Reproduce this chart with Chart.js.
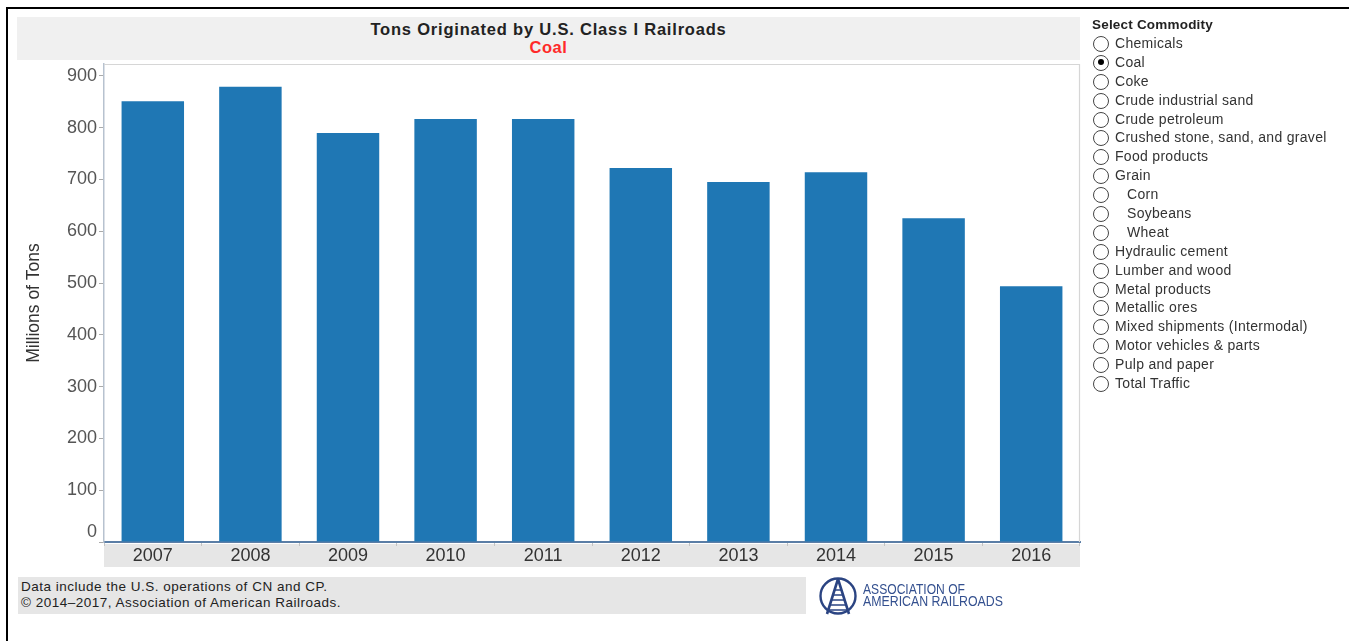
<!DOCTYPE html>
<html>
<head>
<meta charset="utf-8">
<title>Tons Originated by U.S. Class I Railroads</title>
<script src="https://cdn.jsdelivr.net/npm/chart.js@4.4.1/dist/chart.umd.min.js"></script>
<style>
  html, body { margin: 0; padding: 0; background: #fff; }
  body { width: 1349px; height: 641px; position: relative; overflow: hidden;
         font-family: "Liberation Sans", Arial, sans-serif; }
  #frameTop { position: absolute; left: 6px; top: 7px; width: 1343px; height: 2px; background: #000; }
  #frameLeft { position: absolute; left: 6px; top: 7px; width: 2px; height: 634px; background: #000; }
  #titleBand { position: absolute; left: 17px; top: 17px; width: 1063px; height: 43px; background: #f0f0f0; }
  #titleMain { position: absolute; left: 0; width: 100%; top: 3px; text-align: center;
               font-weight: bold; font-size: 16.5px; letter-spacing: 0.8px; color: #222; }
  #titleSub { position: absolute; left: 0; width: 100%; top: 21px; text-align: center;
              font-weight: bold; font-size: 16.5px; letter-spacing: 0.5px; color: #ff2a2a; }
  #chartWrap { position: absolute; left: 0; top: 0; width: 1349px; height: 641px; }
  #footer { position: absolute; left: 18px; top: 577px; width: 788px; height: 37px; background: #e6e6e6; }
  #footer div { position: absolute; left: 3px; font-size: 13.5px; letter-spacing: 0.5px; color: #222; white-space: nowrap; }
  #commodity { position: absolute; left: 1092px; top: 17px; }
  #commodity .head { font-weight: bold; font-size: 13.5px; letter-spacing: 0.2px; color: #222; height: 18px; }
  #commodity .item { position: relative; height: 18.9px; font-size: 14px; letter-spacing: 0.3px; color: #333; white-space: nowrap; }
  #commodity .dot { position: absolute; left: 1px; top: 1px; width: 16px; height: 16px; box-sizing: border-box;
                    border: 1.5px solid #444; border-radius: 50%; background: #fff; }
  #commodity .dot.on::after { content: ""; position: absolute; left: 3.5px; top: 3.5px; width: 6px; height: 6px;
                    border-radius: 50%; background: #000; }
  #commodity .lbl { position: absolute; left: 23px; top: 0; }
  #commodity .sub .lbl { left: 35px; }
  #logo { position: absolute; left: 816px; top: 576px; }
</style>
</head>
<body>
<div id="frameTop"></div>
<div id="frameLeft"></div>

<div id="titleBand">
  <div id="titleMain">Tons Originated by U.S. Class I Railroads</div>
  <div id="titleSub">Coal</div>
</div>

<div id="chartWrap"><canvas id="chart" width="1349" height="641"></canvas></div>

<div id="commodity"></div>

<div id="footer">
  <div style="top:2px">Data include the U.S. operations of CN and CP.</div>
  <div style="top:18px">© 2014–2017, Association of American Railroads.</div>
</div>

<svg id="logo" width="200" height="40" viewBox="0 0 200 40">
  <circle cx="22" cy="20" r="17.5" fill="none" stroke="#2b4482" stroke-width="2.4"/>
  <path d="M22 3 L11 38 M22 3 L33 38" stroke="#2b4482" stroke-width="2.6" fill="none"/>
  <path d="M19 14 H25 M17.5 19 H26.5 M16 24 H28 M14.5 29 H29.5 M13 34 H31" stroke="#2b4482" stroke-width="1.6"/>
  <text x="47" y="18" font-family="Liberation Sans Narrow, Liberation Sans, Arial" font-size="14"
        fill="#34508f" textLength="102" lengthAdjust="spacingAndGlyphs">ASSOCIATION OF</text>
  <text x="47" y="30" font-family="Liberation Sans Narrow, Liberation Sans, Arial" font-size="14"
        fill="#34508f" textLength="140" lengthAdjust="spacingAndGlyphs">AMERICAN RAILROADS</text>
</svg>

<script>
// Coal tons originated, millions of tons per year
const years = ['2007', '2008', '2009', '2010', '2011', '2012', '2013', '2014', '2015', '2016'];
const coalTons = [851, 879, 790, 817, 817, 722, 695, 714, 625, 494];
const yTickValues = [0, 100, 200, 300, 400, 500, 600, 700, 800, 900];

// Commodity selector entries: [label, indented, selected]
const commodities = [
  ['Chemicals', false, false],
  ['Coal', false, true],
  ['Coke', false, false],
  ['Crude industrial sand', false, false],
  ['Crude petroleum', false, false],
  ['Crushed stone, sand, and gravel', false, false],
  ['Food products', false, false],
  ['Grain', false, false],
  ['Corn', true, false],
  ['Soybeans', true, false],
  ['Wheat', true, false],
  ['Hydraulic cement', false, false],
  ['Lumber and wood', false, false],
  ['Metal products', false, false],
  ['Metallic ores', false, false],
  ['Mixed shipments (Intermodal)', false, false],
  ['Motor vehicles & parts', false, false],
  ['Pulp and paper', false, false],
  ['Total Traffic', false, false]
];

const list = document.getElementById('commodity');
const head = document.createElement('div');
head.className = 'head';
head.textContent = 'Select Commodity';
list.appendChild(head);
commodities.forEach(([name, sub, on]) => {
  const row = document.createElement('div');
  row.className = 'item' + (sub ? ' sub' : '');
  const dot = document.createElement('span');
  dot.className = 'dot' + (on ? ' on' : '');
  const lbl = document.createElement('span');
  lbl.className = 'lbl';
  lbl.textContent = name;
  row.appendChild(dot);
  row.appendChild(lbl);
  list.appendChild(row);
});

const FONT = '"Liberation Sans", Arial, sans-serif';
const Y_LABEL_COLOR = '#555';

// Grey band behind the year labels, thin frame on top/right of the plot,
// and the zero label lifted clear of the baseline
const plotDecor = {
  id: 'plotDecor',
  beforeDraw(chart) {
    const { ctx, chartArea: a } = chart;
    ctx.save();
    ctx.fillStyle = '#e6e6e6';
    ctx.fillRect(a.left, a.bottom + 2, a.right - a.left, 23);
    ctx.restore();
  },
  afterDraw(chart) {
    const { ctx, chartArea: a } = chart;
    const y = chart.scales.y;
    ctx.save();
    ctx.strokeStyle = '#d6d6d6';
    ctx.lineWidth = 1.2;
    ctx.beginPath();
    ctx.moveTo(a.left, a.top + 0.5);
    ctx.lineTo(a.right - 0.5, a.top + 0.5);
    ctx.lineTo(a.right - 0.5, a.bottom);
    ctx.stroke();
    ctx.fillStyle = Y_LABEL_COLOR;
    ctx.font = '18px ' + FONT;
    ctx.textAlign = 'right';
    ctx.textBaseline = 'middle';
    ctx.fillText('0', a.left - 7, y.getPixelForValue(0) - 10);
    ctx.restore();
  }
};

new Chart(document.getElementById('chart'), {
  type: 'bar',
  data: {
    labels: years,
    datasets: [{
      label: 'Coal',
      data: coalTons,
      backgroundColor: '#1f77b4',
      borderWidth: 0,
      categoryPercentage: 1.0,
      barPercentage: 0.64
    }]
  },
  plugins: [plotDecor],
  options: {
    responsive: false,
    animation: false,
    layout: { padding: { left: 0, top: 64, right: 269, bottom: 75 } },
    plugins: { legend: { display: false }, title: { display: false }, tooltip: { enabled: false } },
    scales: {
      x: {
        grid: { display: true, drawOnChartArea: false, tickLength: 4, color: '#c4c4c4', offset: true },
        border: { display: true, color: '#5b7ea6', width: 2 },
        ticks: { padding: 1, color: '#333', font: { family: FONT, size: 18, lineHeight: 1 }, maxRotation: 0 },
        afterFit(scale) { scale.height = 24; }
      },
      y: {
        min: 0,
        max: 923,
        afterBuildTicks(scale) { scale.ticks = yTickValues.map(v => ({ value: v })); },
        grid: { display: true, drawOnChartArea: false, tickLength: 5, color: '#aaaaaa' },
        border: { display: true, color: '#b7c2cf', width: 1.5 },
        ticks: {
          padding: 2,
          color: (c) => (c.tick && c.tick.value === 0 ? 'rgba(0,0,0,0)' : Y_LABEL_COLOR),
          font: { family: FONT, size: 18 }
        },
        title: {
          display: true,
          text: 'Millions of Tons',
          color: '#333',
          font: { family: FONT, size: 17.5 },
          padding: { top: 24, bottom: 0 }
        },
        afterFit(scale) { scale.width = 104; }
      }
    }
  }
});
</script>
</body>
</html>
